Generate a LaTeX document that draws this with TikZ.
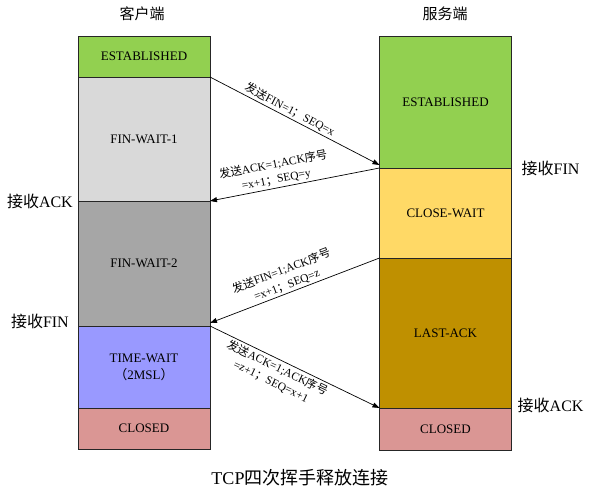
\documentclass[tikz,border=0pt]{standalone}
\usepackage{fontspec}
\setmainfont{Liberation Serif}
\newfontfamily\cjk{Noto Sans CJK SC}
\newcommand{\zh}[1]{{\cjk #1}}
\usetikzlibrary{arrows.meta,positioning}
\definecolor{stgreen}{HTML}{92D050}
\definecolor{stlgray}{HTML}{D9D9D9}
\definecolor{stdgray}{HTML}{A6A6A6}
\definecolor{stviolet}{HTML}{9999FF}
\definecolor{stpink}{HTML}{DA9694}
\definecolor{styellow}{HTML}{FFD966}
\definecolor{stgold}{HTML}{BF9000}

\begin{document}
\begin{tikzpicture}[x=1pt, y=1pt,
  state/.style={draw=black!85, rectangle, minimum width=132pt, inner sep=0pt, outer sep=0pt,
    align=center, font=\fontsize{13}{17}\selectfont},
  side/.style={inner sep=0pt, font=\fontsize{16}{18}\selectfont},
  msg/.style={-{Triangle[length=7pt,width=5pt]}, black, line width=0.7pt},
  msglbl/.style={sloped, align=center, inner sep=2pt, font=\fontsize{11.5}{15}\selectfont}]
  \useasboundingbox (0,0) rectangle (592,498);

  % client side
  \node[side, font=\cjk\fontsize{15}{17}\selectfont] (client) at (142,484.5) {客户端};
  \node[state, fill=stgreen, minimum height=41pt] (cest) at (144,441.5) {ESTABLISHED};
  \node[state, fill=stlgray, minimum height=124pt, below=0pt of cest] (cfw1) {FIN-WAIT-1};
  \node[state, fill=stdgray, minimum height=125pt, below=0pt of cfw1] (cfw2) {FIN-WAIT-2};
  \node[state, fill=stviolet, minimum height=82pt, below=0pt of cfw2] (ctw) {TIME-WAIT\\\zh{（}2MSL\zh{）}};
  \node[state, fill=stpink, minimum height=41pt, below=0pt of ctw] (ccl) {CLOSED};

  % server side
  \node[side, font=\cjk\fontsize{15}{17}\selectfont] (server) at (445,484.5) {服务端};
  \node[state, fill=stgreen, minimum height=132pt] (sest) at (445.5,396) {ESTABLISHED};
  \node[state, fill=styellow, minimum height=90pt, below=0pt of sest] (scw) {CLOSE-WAIT};
  \node[state, fill=stgold, minimum height=150pt, below=0pt of scw] (slack) {LAST-ACK};
  \node[state, fill=stpink, minimum height=42pt, below=0pt of slack] (scl) {CLOSED};

  % receive marks
  \node[side, left=5pt of cfw2.north west] (crack) {\zh{接收}ACK};
  \node[side, left=9pt of cfw2.south west, yshift=4.5pt] (crfin) {\zh{接收}FIN};
  \node[side, right=10pt of sest.south east] (srfin) {\zh{接收}FIN};
  \node[side, right=6pt of slack.south east, yshift=2.5pt] (srack) {\zh{接收}ACK};

  % messages
  \draw[msg] (cest.south east) -- ([yshift=3pt]sest.south west)
    node[msglbl, pos=0.45, above] {\zh{发送}FIN=1\zh{；}SEQ=x};
  \draw[msg] (scw.north west) -- (cfw1.south east)
    node[msglbl, pos=0.6, above] {\zh{发送}ACK=1;ACK\zh{序号}\\=x+1\zh{；}SEQ=y};
  \draw[msg] (slack.north west) -- ([yshift=3pt]cfw2.south east)
    node[msglbl, pos=0.53, above] {\zh{发送}FIN=1;ACK\zh{序号}\\=x+1\zh{；}SEQ=z};
  \draw[msg] (ctw.north east) -- (slack.south west)
    node[msglbl, pos=0.42, below] {\zh{发送}ACK=1;ACK\zh{序号}\\=z+1\zh{；}SEQ=x+1};

  \node[font=\fontsize{18}{20}\selectfont] (caption) at (300,20) {TCP\zh{四次挥手释放连接}};
\end{tikzpicture}
\end{document}
